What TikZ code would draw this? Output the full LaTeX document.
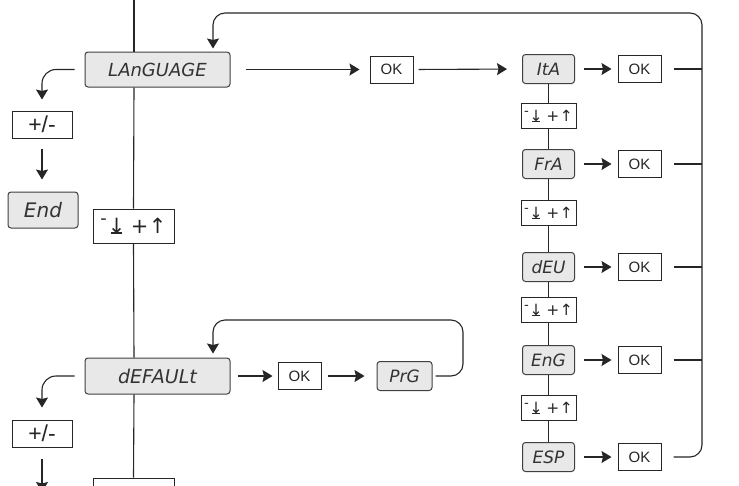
\documentclass[tikz,border=0pt]{standalone}
\usepackage{fontspec}
\setmainfont{Liberation Sans}
\newfontfamily\segfont{DejaVu Sans}
\newfontfamily\symfont{DejaVu Sans}
\usetikzlibrary{arrows.meta}
\newcommand\dnbar{\ooalign{↓\cr\hidewidth\rule[-0.02em]{0.5em}{0.08em}\hidewidth\cr}}
\newcommand\keytxt{{\symfont\raisebox{0.42em}{\scalebox{0.85}{-}}\kern0.05em\dnbar\kern0.25em+\kern0.03em↑}}
\definecolor{dispfill}{HTML}{E8E8E8}
\tikzset{
  disp/.style={draw=black!75, fill=dispfill, rounded corners=3pt, line width=1pt, inner sep=0pt, text=black!80, font=\segfont\itshape\fontsize{16}{16}\selectfont},
  okbox/.style={draw=black!85, line width=1pt, inner sep=0pt, minimum width=43pt, minimum height=27pt, text=black!85, font=\fontsize{15}{15}\selectfont},
  pmbox/.style={draw=black!85, line width=1pt, inner sep=0pt, minimum width=60pt, minimum height=27pt, text=black!85, font=\fontsize{23}{23}\selectfont},
  keybox/.style={draw=black!85, line width=1pt, inner sep=0pt, minimum width=55pt, minimum height=25pt, text=black!85, font=\fontsize{15.5}{15.5}\selectfont},
  ln/.style={line width=1.1pt, draw=black!85},
  arr/.style={ln, -{Stealth[width=12pt,length=10pt,inset=1.5pt]}},
}
\begin{document}
\begin{tikzpicture}[x=1pt,y=-1pt]
\clip (0,0) rectangle (739,485);
\fill[white] (0,0) rectangle (739,485);

% left part
\coordinate (top) at (134,0);
\node[disp, minimum width=145pt, minimum height=35pt, font=\segfont\itshape\fontsize{18}{18}\selectfont] (lang) at (157.5,69.5) {LAnGUAGE};
\node[disp, minimum width=145pt, minimum height=36pt, font=\segfont\itshape\fontsize{19}{19}\selectfont] (dflt) at (157.5,376) {dEFAULt};
\node[disp, minimum width=70pt, minimum height=36pt, font=\segfont\itshape\fontsize{20}{20}\selectfont] (end) at (43,210) {End};
\node[pmbox] (pm1) at (42,124.5) {+/-};
\node[pmbox] (pm2) at (42,433.5) {+/-};
\node[keybox, minimum width=81pt, minimum height=34pt, font=\fontsize{21}{21}\selectfont] (kL) at (133.5,226) {\keytxt};
\node[keybox, minimum width=81pt, minimum height=26pt] (kB) at (133.5,491) {};

\draw[ln] (top) -- (top |- lang.north);
\draw[ln] (top |- lang.south) -- (kL.north);
\draw[ln] (kL.south) -- (top |- dflt.north);
\draw[ln] (top |- dflt.south) -- (kB.north);

\draw[arr, rounded corners=14pt, shorten <=10pt, shorten >=11pt] (lang.west) -| (pm1.north);
\draw[arr, shorten <=10pt, shorten >=12pt] (pm1.south) -- (pm1.south |- end.north);
\draw[arr, rounded corners=14pt, shorten <=10pt, shorten >=12pt] (dflt.west) -| (pm2.north);
\coordinate (bend) at (42,492);
\draw[arr, shorten <=11pt] (pm2.south) -- (bend);

% middle
\node[okbox] (ok0) at (391.5,69.5) {OK};
\node[okbox] (ok1) at (299.5,376) {OK};
\node[disp, minimum width=55pt, minimum height=29pt, font=\segfont\itshape\fontsize{17}{17}\selectfont] (prg) at (404.5,376) {PrG};

\draw[arr, shorten <=15pt, shorten >=10pt] (lang.east) -- (ok0.west);
\draw[arr, shorten <=7pt, shorten >=5pt] (dflt.east) -- (ok1.west);
\draw[arr, shorten <=6pt, shorten >=12pt] (ok1.east) -- (prg.west);
\coordinate (pl) at (463,320);
\coordinate (pl2) at (213,320);
\draw[arr, rounded corners=12pt, shorten <=3pt, shorten >=4pt] (prg.east) -| (pl) -- (pl2) -- (pl2 |- dflt.north);

% right column
\tikzset{rdisp/.style={disp, minimum width=52pt, minimum height=29pt, font=\segfont\itshape\fontsize{17}{17}\selectfont}}
\node[rdisp] (ita) at (548.5,69) {ItA};
\node[keybox] (k1) at (548.5,116) {\keytxt};
\node[rdisp] (fra) at (548.5,164) {FrA};
\node[keybox] (k2) at (548.5,213) {\keytxt};
\node[rdisp] (deu) at (548.5,267) {dEU};
\node[keybox] (k3) at (548.5,310) {\keytxt};
\node[rdisp] (eng) at (548.5,360) {EnG};
\node[keybox] (k4) at (548.5,408) {\keytxt};
\node[rdisp] (esp) at (548.5,457) {ESP};

\node[okbox] (oka) at (639.5,69) {OK};
\node[okbox] (okb) at (639.5,164) {OK};
\node[okbox] (okc) at (639.5,267) {OK};
\node[okbox] (okd) at (639.5,360) {OK};
\node[okbox] (oke) at (639.5,457) {OK};

\draw[arr, shorten <=5pt, shorten >=15pt] (ok0.east) -- (ita.west);

\draw[ln] (ita.south) -- (k1.north);
\draw[ln] (k1.south) -- (fra.north);
\draw[ln] (fra.south) -- (k2.north);
\draw[ln] (k2.south) -- (deu.north);
\draw[ln] (deu.south) -- (k3.north);
\draw[ln] (k3.south) -- (eng.north);
\draw[ln] (eng.south) -- (k4.north);
\draw[ln] (k4.south) -- (esp.north);

\draw[arr, shorten <=9pt, shorten >=6pt] (ita.east) -- (oka.west);
\draw[arr, shorten <=9pt, shorten >=6pt] (fra.east) -- (okb.west);
\draw[arr, shorten <=9pt, shorten >=6pt] (deu.east) -- (okc.west);
\draw[arr, shorten <=9pt, shorten >=6pt] (eng.east) -- (okd.west);
\draw[arr, shorten <=9pt, shorten >=6pt] (esp.east) -- (oke.west);

\coordinate (rtop) at (702,13);
\coordinate (ltop) at (213,13);
\draw[ln, shorten <=12pt] (oka.east) -- (oka.east -| rtop);
\draw[ln, shorten <=12pt] (okb.east) -- (okb.east -| rtop);
\draw[ln, shorten <=12pt] (okc.east) -- (okc.east -| rtop);
\draw[ln, shorten <=12pt] (okd.east) -- (okd.east -| rtop);
\draw[arr, rounded corners=12pt, shorten <=12pt, shorten >=3pt] (oke.east) -- (oke.east -| rtop) -- (rtop) -- (ltop) -- (ltop |- lang.north);
\end{tikzpicture}
\end{document}
